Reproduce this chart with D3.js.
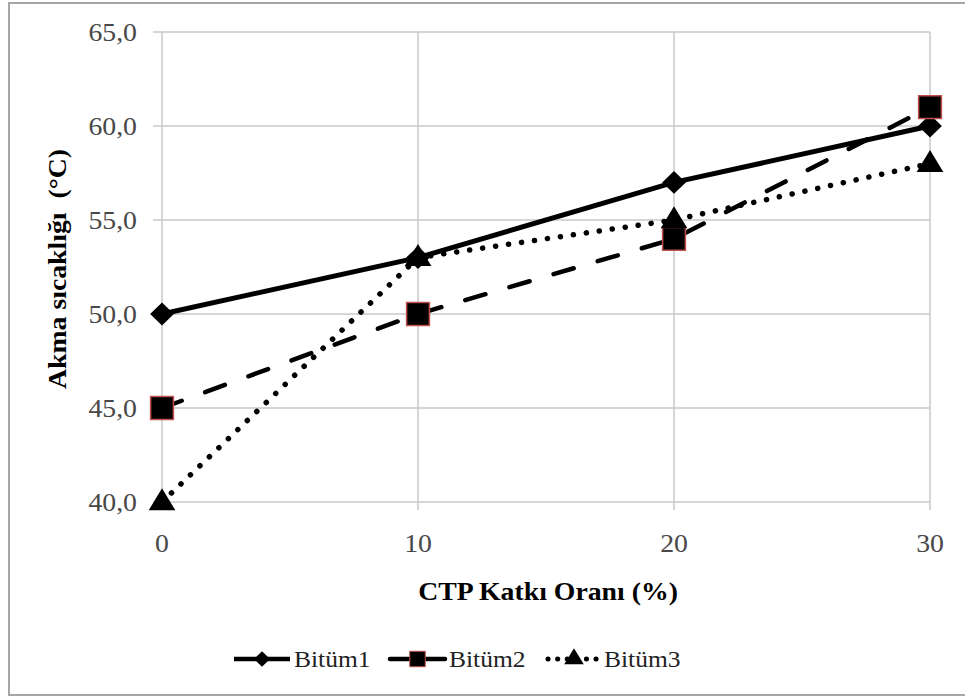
<!DOCTYPE html>
<html>
<head>
<meta charset="utf-8">
<script src="https://cdn.jsdelivr.net/npm/d3@7"></script>
<style>
  body { margin: 0; background: #fff; }
</style>
</head>
<body>
<script>
// data
let xValues = [0, 10, 20, 30];
let bitum1 = [50, 53, 57, 60];
let bitum2 = [45, 50, 54, 61];
let bitum3 = [40, 53, 55, 58];
let seriesNames = ["Bit\u00fcm1", "Bit\u00fcm2", "Bit\u00fcm3"];
let yTicks = [40, 45, 50, 55, 60, 65];

let width = 965, height = 698;
let plot = {left: 162, right: 930, top: 32, bottom: 502};
let stretch = 1.11; // the source picture is a bit wider than tall

let svg = d3.select("body").append("svg")
  .attr("width", width)
  .attr("height", height)
  .attr("font-family", "Liberation Serif, DejaVu Serif, serif");

// outer frame (right edge is cut off in the original)
svg.append("rect")
  .attr("x", 9).attr("y", 3)
  .attr("width", 975).attr("height", 692)
  .attr("fill", "none")
  .attr("stroke", "#a6a6a6")
  .attr("stroke-width", 2);

let x = d3.scaleLinear().domain([0, 30]).range([plot.left, plot.right]);
let y = d3.scaleLinear().domain([40, 65]).range([plot.bottom, plot.top]);

// horizontal gridlines
svg.append("g").selectAll("line")
  .data(yTicks)
  .enter().append("line")
  .attr("x1", plot.left - 9)
  .attr("x2", plot.right)
  .attr("y1", d => y(d))
  .attr("y2", d => y(d))
  .attr("stroke", "#c8c8c8")
  .attr("stroke-width", 1.5);

// vertical gridlines
svg.append("g").selectAll("line")
  .data(xValues)
  .enter().append("line")
  .attr("x1", d => x(d))
  .attr("x2", d => x(d))
  .attr("y1", plot.top)
  .attr("y2", plot.bottom + 8)
  .attr("stroke", "#c8c8c8")
  .attr("stroke-width", 1.5);

// y tick labels
svg.append("g").selectAll("text")
  .data(yTicks)
  .enter().append("text")
  .attr("transform", d => "translate(" + (plot.left - 25) + "," + (y(d) + 9) + ") scale(" + stretch + ",1)")
  .attr("text-anchor", "end")
  .attr("fill", "#484848")
  .style("font-size", "25px")
  .text(d => d3.format(".1f")(d).replace(".", ","));

// x tick labels
svg.append("g").selectAll("text")
  .data(xValues)
  .enter().append("text")
  .attr("transform", d => "translate(" + x(d) + "," + (plot.bottom + 50) + ") scale(" + stretch + ",1)")
  .attr("text-anchor", "middle")
  .attr("fill", "#484848")
  .style("font-size", "25px")
  .text(d => d);

// axis titles
svg.append("text")
  .attr("transform", "translate(548,600) scale(" + stretch + ",1)")
  .attr("text-anchor", "middle")
  .style("font-size", "25px")
  .style("font-weight", "bold")
  .text("CTP Katkı Oranı (%)");

svg.append("text")
  .attr("transform", "translate(66,269) rotate(-90) scale(" + stretch + ",1)")
  .attr("text-anchor", "middle")
  .style("font-size", "25px")
  .style("font-weight", "bold")
  .style("white-space", "pre")
  .text("Akma sıcaklığı  (°C)");

let line = d3.line()
  .x((d, i) => x(xValues[i]))
  .y(d => y(d));

let styles = [
  {data: bitum1, dash: null, width: 5, cap: "butt", symbol: d3.symbolDiamond, size: 150, sx: 1.8, dy: 0, stroke: "none"},
  {data: bitum2, dash: "21,25", width: 4.5, cap: "round", symbol: d3.symbolSquare, size: 520, sx: 1, dy: 0, stroke: "#c0504d"},
  {data: bitum3, dash: "0.1,13", width: 5.5, cap: "round", symbol: d3.symbolTriangle, size: 280, sx: 1.05, dy: 1, stroke: "none"}
];

styles.forEach(function(s) {
  svg.append("path")
    .datum(s.data)
    .attr("d", line)
    .attr("fill", "none")
    .attr("stroke", "#000")
    .attr("stroke-width", s.width)
    .attr("stroke-linecap", s.cap)
    .attr("stroke-dasharray", s.dash);
});

// markers drawn after lines
styles.forEach(function(s) {
  let sym = d3.symbol().type(s.symbol).size(s.size);
  svg.append("g").selectAll("path")
    .data(s.data)
    .enter().append("path")
    .attr("transform", (d, i) => "translate(" + x(xValues[i]) + "," + (y(d) + s.dy) + ") scale(" + s.sx + ",1)")
    .attr("d", sym)
    .attr("fill", "#000")
    .attr("stroke", s.stroke)
    .attr("stroke-width", 1.5);
});

// legend
let legendLines = [[234, 290], [390, 445], [548, 600]];
let legendDash = [null, null, "0.1,9.5"];
let legendSize = [70, 240, 150];
let legend = svg.append("g");
styles.forEach(function(s, i) {
  let x1 = legendLines[i][0], x2 = legendLines[i][1], ly = 659;
  legend.append("line")
    .attr("x1", x1).attr("x2", x2)
    .attr("y1", ly).attr("y2", ly)
    .attr("stroke", "#000")
    .attr("stroke-width", i === 2 ? 5 : 4.5)
    .attr("stroke-linecap", s.cap)
    .attr("stroke-dasharray", legendDash[i]);
  legend.append("path")
    .attr("transform", "translate(" + ((x1 + x2) / 2) + "," + ly + ") scale(" + s.sx + ",1)")
    .attr("d", d3.symbol().type(s.symbol).size(legendSize[i]))
    .attr("fill", "#000")
    .attr("stroke", s.stroke)
    .attr("stroke-width", 1);
  legend.append("text")
    .attr("transform", "translate(" + (x2 + 4) + "," + (ly + 8) + ") scale(" + stretch + ",1)")
    .attr("fill", "#222")
    .style("font-size", "23px")
    .text(seriesNames[i]);
});
</script>
</body>
</html>
